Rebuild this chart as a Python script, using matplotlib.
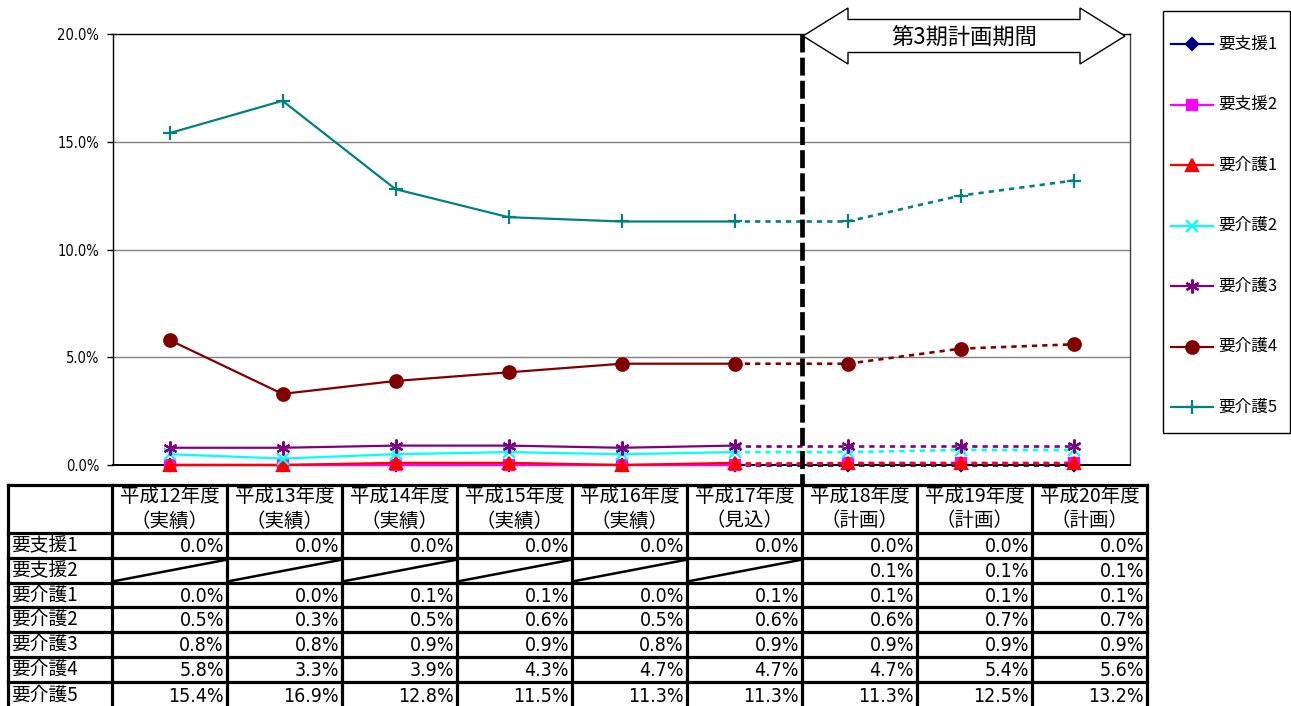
import matplotlib
matplotlib.use("Agg")
import matplotlib.pyplot as plt
from matplotlib.patches import Polygon, Rectangle
import numpy as np

# ---- data -------------------------------------------------------------
years = ["平成12年度", "平成13年度", "平成14年度", "平成15年度", "平成16年度",
         "平成17年度", "平成18年度", "平成19年度", "平成20年度"]
year_status = ["（実績）", "（実績）", "（実績）", "（実績）", "（実績）",
               "（見込）", "（計画）", "（計画）", "（計画）"]
series_names = ["要支援1", "要支援2", "要介護1", "要介護2", "要介護3", "要介護4", "要介護5"]

yoshien1 = [0.0, 0.0, 0.0, 0.0, 0.0, 0.0, 0.0, 0.0, 0.0]
yoshien2 = [0.0, 0.0, 0.0, 0.0, 0.0, 0.0, 0.1, 0.1, 0.1]
yoshien2_exists = [False, False, False, False, False, False, True, True, True]
kaigo1 = [0.0, 0.0, 0.1, 0.1, 0.0, 0.1, 0.1, 0.1, 0.1]
kaigo2 = [0.5, 0.3, 0.5, 0.6, 0.5, 0.6, 0.6, 0.7, 0.7]
kaigo3 = [0.8, 0.8, 0.9, 0.9, 0.8, 0.9, 0.9, 0.9, 0.9]
kaigo4 = [5.8, 3.3, 3.9, 4.3, 4.7, 4.7, 4.7, 5.4, 5.6]
kaigo5 = [15.4, 16.9, 12.8, 11.5, 11.3, 11.3, 11.3, 12.5, 13.2]

series_values = [yoshien1, yoshien2, kaigo1, kaigo2, kaigo3, kaigo4, kaigo5]
cell_exists = [[True] * 9, yoshien2_exists] + [[True] * 9] * 5

y_ticks = [0, 5, 10, 15, 20]
period_label = "第3期計画期間"
first_plan_index = 5   # last actual/estimate year; dotted from here on

# ---- styles -----------------------------------------------------------
colors = ["#000080", "#FF00FF", "#FF0000", "#00FFFF", "#800080", "#800000", "#008080"]
markers = ["D", "s", "^", "x", (6, 2, 0), "o", "+"]
msizes = [6, 7, 8, 8, 10, 9, 10]
mfilled = [True, True, True, False, False, True, False]

JP = "Noto Sans CJK JP"
NUM = dict(family="DejaVu Sans", fontstretch="condensed")

W, H = 1291, 706
fig = plt.figure(figsize=(W / 100, H / 100), dpi=100)
fig.patch.set_facecolor("white")

# ---- line chart -------------------------------------------------------
ax_l, ax_r, ax_t, ax_b = 113, 1130, 34, 465
ax = fig.add_axes([ax_l / W, (H - ax_b) / H, (ax_r - ax_l) / W, (ax_b - ax_t) / H])
x = np.arange(len(years))
ax.set_xlim(-0.5, len(years) - 0.5)
ax.set_ylim(0, 20)
ax.set_xticks([])
ax.set_yticks(y_ticks)
ax.set_yticklabels([f"{v:.1f}%" for v in y_ticks], fontsize=10.5, **NUM)
ax.tick_params(axis="y", length=4, width=1, pad=6, direction="out")
for v in y_ticks[1:-1]:
    ax.axhline(v, color="#808080", lw=1, zorder=0.5)
for side in ["left", "top"]:
    ax.spines[side].set_color("black")
    ax.spines[side].set_linewidth(1)
ax.spines["bottom"].set_color("black")
ax.spines["bottom"].set_linewidth(1.4)
ax.spines["right"].set_color("#404040")
ax.spines["right"].set_linewidth(1)

for i, vals in enumerate(series_values):
    vals = np.asarray(vals)
    z = 2 + i
    c = colors[i]
    ax.plot(x[:first_plan_index + 1], vals[:first_plan_index + 1], color=c, lw=1.6,
            solid_capstyle="butt", zorder=z, clip_on=False)
    ax.plot(x[first_plan_index:], vals[first_plan_index:], color=c, lw=1.9,
            linestyle=(0, (2.0, 1.9)), zorder=z, clip_on=False)
    ax.plot(x, vals, linestyle="none", marker=markers[i], ms=msizes[i],
            mfc=c if mfilled[i] else "none", mec=c, mew=1.6, zorder=z + 0.5,
            clip_on=False)

# ---- overlay in pixel coordinates ---------------------------------------
ov = fig.add_axes([0, 0, 1, 1], zorder=5)
ov.set_xlim(0, W)
ov.set_ylim(H, 0)
ov.axis("off")

# table grid
col_edges = [8, 112, 227, 342, 457, 572, 687, 802, 917, 1032, 1147]
row_edges = [485, 533, 558, 583, 607, 632, 657, 682, 708]

# plan period boundary
ov.plot([col_edges[7], col_edges[7]], [ax_t, row_edges[0]], color="black", lw=3.4,
        dashes=(3.8, 1.1), solid_capstyle="butt", dash_capstyle="butt", zorder=3)

# double-headed period arrow
ax_x0, ax_x1, mid_y = 803, 1125, 36
head_len, head_half, shaft_half = 45, 28, 16.5
arrow_pts = [
    (ax_x0, mid_y), (ax_x0 + head_len, mid_y - head_half), (ax_x0 + head_len, mid_y - shaft_half),
    (ax_x1 - head_len, mid_y - shaft_half), (ax_x1 - head_len, mid_y - head_half), (ax_x1, mid_y),
    (ax_x1 - head_len, mid_y + head_half), (ax_x1 - head_len, mid_y + shaft_half),
    (ax_x0 + head_len, mid_y + shaft_half), (ax_x0 + head_len, mid_y + head_half),
]
ov.add_patch(Polygon(arrow_pts, closed=True, facecolor="white", edgecolor="black",
                     lw=1.0, zorder=4))
ov.text((ax_x0 + ax_x1) / 2, mid_y + 1, period_label, family=JP, fontsize=16,
        ha="center", va="center", zorder=5)

# table lines
tbl_lw = 2.3
for yy in row_edges:
    ov.plot([col_edges[0], col_edges[-1]], [yy, yy], color="black", lw=tbl_lw,
            solid_capstyle="projecting", zorder=2)
for xx in col_edges:
    ov.plot([xx, xx], [row_edges[0], row_edges[-1]], color="black", lw=tbl_lw,
            solid_capstyle="projecting", zorder=2)

# header
for j, (yr, st) in enumerate(zip(years, year_status)):
    cx = (col_edges[j + 1] + col_edges[j + 2]) / 2
    ov.text(cx, 497, yr, family=JP, fontsize=14, ha="center", va="center")
    ov.text(cx, 521, st, family=JP, fontsize=14, ha="center", va="center")

# body
for i, name in enumerate(series_names):
    y0, y1 = row_edges[i + 1], row_edges[i + 2]
    cy = (y0 + y1) / 2
    ov.text(col_edges[0] + 3, cy, name, family=JP, fontsize=13.5, ha="left", va="center")
    for j in range(len(years)):
        xl, xr = col_edges[j + 1], col_edges[j + 2]
        if cell_exists[i][j]:
            ov.text(xr - 3, cy + 1, f"{series_values[i][j]:.1f}%", fontsize=14,
                    ha="right", va="center", **NUM)
        else:
            ov.plot([xl + 3, xr - 2], [y1 - 2, y0 + 2], color="black", lw=1.8, zorder=2)

# legend
lg_x0, lg_y0, lg_x1, lg_y1 = 1163, 11, 1290, 433
ov.add_patch(Rectangle((lg_x0, lg_y0), lg_x1 - lg_x0, lg_y1 - lg_y0, facecolor="white",
                       edgecolor="black", lw=1.0, zorder=1))
for i, name in enumerate(series_names):
    ly = 44 + 60.5 * i
    c = colors[i]
    ov.plot([1171, 1213], [ly, ly], color=c, lw=1.6, zorder=3)
    ov.plot([1192], [ly], linestyle="none", marker=markers[i], ms=msizes[i],
            mfc=c if mfilled[i] else "none", mec=c, mew=1.6, zorder=3.5)
    ov.text(1218, ly, name, family=JP, fontsize=12, ha="left", va="center", zorder=4)

fig.savefig("out.png", dpi=100, facecolor="white")
